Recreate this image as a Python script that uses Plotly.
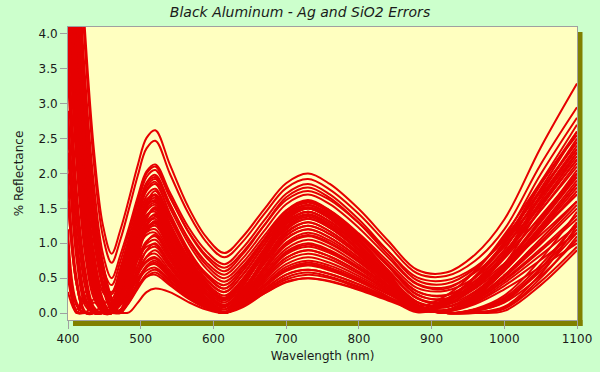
import plotly.graph_objects as go

wavelength_nm = [400, 412, 424, 436, 448, 460, 472, 484, 496, 508, 520, 540, 565, 590, 615,
                 640, 670, 700, 730, 760, 800, 840, 880, 920, 960, 1000, 1050, 1100]

r_a1 = [9.5, 6.2, 3.95, 2.3, 1.26, 0.85, 1.19, 1.64, 2.12, 2.51, 2.62, 2.13, 1.53, 1.09, 0.86, 1.09, 1.49, 1.86, 2.0, 1.85, 1.49, 1.04, 0.62, 0.58, 0.84, 1.34, 2.37, 3.29]
r_a2 = [9.0, 5.9, 3.7, 2.1, 1.1, 0.72, 1.05, 1.5, 1.97, 2.36, 2.47, 2.0, 1.44, 1.02, 0.8, 1.02, 1.42, 1.79, 1.92, 1.77, 1.42, 0.98, 0.57, 0.53, 0.75, 1.2, 2.13, 2.95]
r_b1 = [8.5, 5.5, 3.3, 1.8, 0.85, 0.5, 0.83, 1.23, 1.67, 2.03, 2.13, 1.73, 1.24, 0.89, 0.7, 0.93, 1.33, 1.71, 1.85, 1.7, 1.34, 0.89, 0.47, 0.42, 0.64, 1.09, 1.99, 2.8]
r_b2 = [8.0, 5.0, 2.9, 1.5, 0.65, 0.4, 0.74, 1.17, 1.62, 2.0, 2.1, 1.68, 1.17, 0.8, 0.6, 0.84, 1.26, 1.66, 1.8, 1.65, 1.29, 0.84, 0.42, 0.37, 0.58, 0.99, 1.84, 2.6]
r_b3 = [7.2, 4.4, 2.5, 1.2, 0.45, 0.3, 0.65, 1.09, 1.56, 1.95, 2.05, 1.66, 1.18, 0.83, 0.65, 0.87, 1.26, 1.62, 1.75, 1.62, 1.29, 0.89, 0.51, 0.47, 0.66, 1.05, 1.86, 2.55]
r_b4 = [6.6, 3.9, 2.0, 0.85, 0.3, 0.2, 0.56, 1.0, 1.48, 1.87, 1.98, 1.57, 1.06, 0.69, 0.5, 0.72, 1.11, 1.47, 1.6, 1.47, 1.14, 0.74, 0.36, 0.32, 0.51, 0.91, 1.75, 2.45]
r_b5 = [5.8, 3.2, 1.5, 0.55, 0.18, 0.15, 0.5, 0.95, 1.42, 1.81, 1.92, 1.51, 1.01, 0.64, 0.45, 0.67, 1.06, 1.42, 1.55, 1.42, 1.09, 0.69, 0.31, 0.26, 0.46, 0.85, 1.66, 2.35]
r_b6 = [5.0, 2.6, 1.1, 0.35, 0.1, 0.1, 0.45, 0.89, 1.36, 1.75, 1.85, 1.43, 0.92, 0.55, 0.35, 0.6, 1.03, 1.43, 1.58, 1.44, 1.09, 0.67, 0.26, 0.21, 0.41, 0.8, 1.61, 2.3]
r_c1 = [4.6, 2.3, 0.9, 0.3, 0.08, 0.05, 0.4, 0.83, 1.3, 1.68, 1.78, 1.37, 0.86, 0.49, 0.3, 0.54, 0.97, 1.37, 1.52, 1.38, 1.04, 0.61, 0.21, 0.17, 0.39, 0.82, 1.7, 2.5]
r_c2 = [8.0, 5.0, 2.9, 1.5, 0.7, 0.2, 0.0, 0.43, 1.02, 1.53, 1.7, 1.29, 0.8, 0.44, 0.25, 0.49, 0.91, 1.31, 1.45, 1.31, 0.97, 0.55, 0.16, 0.12, 0.31, 0.7, 1.51, 2.2]
r_c3 = [6.5, 3.6, 1.8, 0.75, 0.2, 0.0, 0.32, 0.73, 1.17, 1.52, 1.62, 1.22, 0.74, 0.39, 0.2, 0.46, 0.92, 1.34, 1.5, 1.36, 1.02, 0.6, 0.21, 0.14, 0.37, 0.78, 1.39, 2.0]
r_c4 = [3.8, 1.6, 0.5, 0.05, 0.0, 0.0, 0.31, 0.7, 1.12, 1.46, 1.55, 1.16, 0.68, 0.33, 0.15, 0.4, 0.83, 1.23, 1.38, 1.24, 0.91, 0.5, 0.11, 0.04, 0.25, 0.65, 1.25, 1.9]
r_c5 = [5.5, 3.0, 1.4, 0.5, 0.08, 0.0, 0.3, 0.67, 1.07, 1.39, 1.48, 1.09, 0.62, 0.28, 0.1, 0.34, 0.76, 1.16, 1.3, 1.17, 0.86, 0.47, 0.03, 0.15, 0.46, 0.88, 1.47, 2.1]
r_c6 = [7.0, 4.2, 2.3, 1.1, 0.4, 0.05, 0.04, 0.36, 0.85, 1.28, 1.42, 1.04, 0.57, 0.23, 0.05, 0.29, 0.71, 1.11, 1.25, 1.13, 0.83, 0.45, 0.1, 0.04, 0.23, 0.61, 1.19, 1.8]
r_c7 = [2.6, 0.9, 0.15, 0.0, 0.0, 0.0, 0.27, 0.61, 0.97, 1.27, 1.35, 0.97, 0.51, 0.18, 0.0, 0.24, 0.66, 1.06, 1.2, 1.08, 0.79, 0.46, 0.12, 0.0, 0.05, 0.22, 0.69, 1.3]
r_c8 = [5.0, 2.5, 1.0, 0.3, 0.02, 0.0, 0.26, 0.58, 0.92, 1.2, 1.28, 0.92, 0.49, 0.17, 0.0, 0.22, 0.62, 0.99, 1.12, 1.01, 0.74, 0.4, 0.02, 0.14, 0.43, 0.82, 1.37, 1.95]
r_c9 = [1.6, 0.4, 0.0, 0.0, 0.0, 0.06, 0.36, 0.66, 0.96, 1.16, 1.2, 0.86, 0.46, 0.16, 0.0, 0.21, 0.58, 0.92, 1.05, 0.95, 0.69, 0.38, 0.08, 0.03, 0.21, 0.54, 1.06, 1.6]
r_c10 = [7.6, 4.7, 2.7, 1.35, 0.6, 0.15, 0.0, 0.28, 0.67, 1.01, 1.12, 0.81, 0.43, 0.15, 0.0, 0.2, 0.54, 0.86, 0.98, 0.88, 0.65, 0.39, 0.12, 0.0, 0.01, 0.09, 0.56, 1.25]
r_c11 = [0.5, 0.0, 0.25, 0.0, 0.0, 0.0, 0.21, 0.47, 0.76, 0.99, 1.05, 0.76, 0.4, 0.14, 0.0, 0.22, 0.61, 0.97, 1.1, 0.99, 0.73, 0.4, 0.09, 0.04, 0.23, 0.6, 1.16, 1.75]
r_c12 = [3.4, 1.3, 0.35, 0.02, 0.0, 0.05, 0.29, 0.54, 0.78, 0.95, 0.98, 0.71, 0.37, 0.13, 0.0, 0.18, 0.5, 0.79, 0.9, 0.81, 0.59, 0.32, 0.07, 0.03, 0.18, 0.48, 0.92, 1.4]
r_c13 = [7.3, 4.4, 2.4, 1.2, 0.45, 0.08, 0.02, 0.23, 0.54, 0.81, 0.9, 0.65, 0.34, 0.12, 0.0, 0.17, 0.47, 0.75, 0.85, 0.77, 0.56, 0.32, 0.08, 0.0, 0.03, 0.16, 0.64, 1.3]
r_c14 = [1.2, 0.15, 0.0, 0.2, 0.0, 0.0, 0.17, 0.38, 0.61, 0.8, 0.85, 0.61, 0.32, 0.11, 0.0, 0.19, 0.52, 0.84, 0.95, 0.86, 0.63, 0.34, 0.08, 0.03, 0.2, 0.53, 1.02, 1.55]
r_d1 = [5.2, 2.8, 1.25, 0.42, 0.05, 0.0, 0.16, 0.36, 0.58, 0.75, 0.8, 0.58, 0.3, 0.1, 0.0, 0.15, 0.41, 0.66, 0.75, 0.68, 0.5, 0.28, 0.07, 0.0, 0.05, 0.2, 0.64, 1.2]
r_d2 = [2.3, 0.75, 0.1, 0.0, 0.0, 0.0, 0.02, 0.18, 0.43, 0.65, 0.72, 0.52, 0.27, 0.09, 0.0, 0.14, 0.39, 0.62, 0.7, 0.63, 0.46, 0.28, 0.08, 0.0, 0.01, 0.07, 0.5, 1.1]
r_d3 = [6.2, 3.4, 1.65, 0.65, 0.15, 0.0, 0.13, 0.29, 0.47, 0.61, 0.65, 0.47, 0.25, 0.08, 0.0, 0.12, 0.34, 0.55, 0.62, 0.56, 0.41, 0.22, 0.05, 0.02, 0.13, 0.34, 0.66, 1.0]
r_d4 = [0.7, 0.02, 0.0, 0.0, 0.0, 0.0, 0.0, 0.15, 0.35, 0.52, 0.58, 0.42, 0.22, 0.08, 0.0, 0.11, 0.3, 0.48, 0.55, 0.5, 0.36, 0.22, 0.07, 0.0, 0.0, 0.03, 0.4, 0.9]
r_d5 = [1.9, 0.5, 0.02, 0.0, 0.0, 0.0, 0.11, 0.25, 0.4, 0.52, 0.55, 0.4, 0.21, 0.07, 0.0, 0.1, 0.28, 0.44, 0.5, 0.45, 0.33, 0.18, 0.04, 0.03, 0.16, 0.43, 0.83, 1.25]
r_e1 = [0.3, 0.0, 0.0, 0.0, 0.0, 0.0, 0.0, 0.01, 0.15, 0.3, 0.35, 0.3, 0.16, 0.05, 0.0, 0.08, 0.28, 0.45, 0.5, 0.46, 0.34, 0.2, 0.06, 0.0, 0.0, 0.06, 0.45, 0.95]
r_f1 = [8.2, 5.2, 3.1, 1.6, 0.6, 0.12, 0.42, 0.82, 1.25, 1.6, 1.7, 1.34, 0.89, 0.57, 0.4, 0.64, 1.06, 1.46, 1.6, 1.46, 1.12, 0.7, 0.31, 0.25, 0.51, 1.02, 1.78, 2.6]
r_f2 = [4.0, 1.75, 0.6, 0.08, 0.0, 0.08, 0.48, 0.88, 1.28, 1.55, 1.6, 1.24, 0.79, 0.47, 0.3, 0.55, 0.99, 1.4, 1.55, 1.4, 1.06, 0.62, 0.22, 0.14, 0.39, 0.85, 1.55, 2.3]
r_f3 = [6.8, 4.0, 2.15, 1.0, 0.35, 0.04, 0.04, 0.38, 0.9, 1.35, 1.5, 1.14, 0.69, 0.37, 0.2, 0.45, 0.89, 1.3, 1.45, 1.31, 0.97, 0.55, 0.08, 0.2, 0.52, 0.95, 1.55, 2.2]
r_f4 = [2.0, 0.4, 0.0, 0.0, 0.12, 0.0, 0.28, 0.63, 1.01, 1.32, 1.4, 1.04, 0.59, 0.27, 0.1, 0.38, 0.87, 1.33, 1.5, 1.35, 0.99, 0.54, 0.12, 0.04, 0.27, 0.7, 1.35, 2.05]
r_f5 = [4.7, 2.3, 0.9, 0.25, 0.02, 0.0, 0.26, 0.59, 0.94, 1.22, 1.3, 0.95, 0.53, 0.21, 0.05, 0.32, 0.79, 1.24, 1.4, 1.26, 0.92, 0.5, 0.03, 0.17, 0.53, 1.01, 1.68, 2.4]
r_f6 = [6.0, 3.3, 1.6, 0.6, 0.12, 0.0, 0.33, 0.74, 1.19, 1.55, 1.65, 1.22, 0.69, 0.3, 0.1, 0.33, 0.73, 1.11, 1.25, 1.13, 0.83, 0.45, 0.1, 0.04, 0.24, 0.63, 1.22, 1.85]
r_f7 = [2.9, 1.1, 0.22, 0.0, 0.0, 0.06, 0.35, 0.63, 0.92, 1.12, 1.15, 0.83, 0.44, 0.15, 0.0, 0.27, 0.74, 1.19, 1.35, 1.22, 0.89, 0.49, 0.11, 0.04, 0.26, 0.68, 1.32, 2.0]
r_f8 = [7.8, 4.8, 2.8, 1.4, 0.62, 0.16, 0.0, 0.19, 0.45, 0.68, 0.75, 0.54, 0.29, 0.1, 0.0, 0.12, 0.34, 0.55, 0.62, 0.56, 0.41, 0.22, 0.01, 0.11, 0.35, 0.67, 1.12, 1.6]
r_f9 = [4.3, 2.1, 0.8, 0.2, 0.06, 0.05, 0.42, 0.87, 1.37, 1.77, 1.88, 1.41, 0.84, 0.42, 0.2, 0.43, 0.83, 1.21, 1.35, 1.22, 0.91, 0.52, 0.15, 0.09, 0.29, 0.68, 1.3, 1.95]
r_f10 = [0.9, 0.05, 0.3, 0.0, 0.0, 0.0, 0.02, 0.25, 0.6, 0.9, 1.0, 0.72, 0.38, 0.13, 0.0, 0.16, 0.44, 0.7, 0.8, 0.72, 0.53, 0.3, 0.08, 0.0, 0.04, 0.18, 0.6, 1.15]
r_g1 = [7.8, 4.9, 2.8, 1.4, 0.55, 0.27, 0.59, 1.02, 1.47, 1.85, 1.95, 1.56, 1.08, 0.73, 0.55, 0.78, 1.18, 1.56, 1.7, 1.56, 1.22, 0.8, 0.41, 0.35, 0.61, 1.12, 1.88, 2.7]
r_g2 = [7.2, 4.3, 2.35, 1.15, 0.42, 0.06, 0.05, 0.44, 1.05, 1.58, 1.75, 1.36, 0.88, 0.53, 0.35, 0.6, 1.05, 1.47, 1.62, 1.47, 1.12, 0.68, 0.27, 0.19, 0.41, 0.83, 1.47, 2.15]
r_g3 = [5.7, 3.1, 1.45, 0.52, 0.1, 0.0, 0.32, 0.71, 1.14, 1.49, 1.58, 1.19, 0.71, 0.36, 0.18, 0.43, 0.86, 1.27, 1.42, 1.28, 0.95, 0.54, 0.16, 0.08, 0.26, 0.61, 1.17, 1.7]
r_g4 = [3.6, 1.5, 0.45, 0.04, 0.0, 0.07, 0.44, 0.8, 1.16, 1.41, 1.45, 1.07, 0.6, 0.26, 0.08, 0.37, 0.89, 1.37, 1.55, 1.4, 1.03, 0.57, 0.05, 0.18, 0.51, 0.96, 1.58, 2.25]
r_g5 = [8.3, 5.3, 3.0, 1.55, 0.72, 0.22, 0.0, 0.35, 0.83, 1.24, 1.38, 1.0, 0.54, 0.2, 0.02, 0.25, 0.64, 1.01, 1.15, 1.04, 0.76, 0.44, 0.11, 0.0, 0.06, 0.25, 0.77, 1.45]
r_g6 = [1.0, 0.1, 0.0, 0.15, 0.0, 0.0, 0.25, 0.56, 0.9, 1.18, 1.25, 0.9, 0.48, 0.16, 0.0, 0.29, 0.8, 1.28, 1.45, 1.31, 0.96, 0.52, 0.03, 0.16, 0.52, 0.99, 1.65, 2.35]
r_g7 = [5.3, 2.7, 1.15, 0.38, 0.04, 0.0, 0.22, 0.5, 0.79, 1.03, 1.1, 0.79, 0.42, 0.14, 0.0, 0.26, 0.72, 1.14, 1.3, 1.17, 0.86, 0.47, 0.1, 0.04, 0.24, 0.63, 1.22, 1.85]
r_g8 = [6.4, 3.5, 1.75, 0.72, 0.18, 0.0, 0.19, 0.43, 0.68, 0.89, 0.95, 0.68, 0.36, 0.12, 0.0, 0.14, 0.4, 0.63, 0.72, 0.65, 0.48, 0.27, 0.07, 0.0, 0.03, 0.15, 0.53, 1.05]
r_g9 = [3.8, 1.6, 0.5, 0.05, 0.0, 0.0, 0.14, 0.32, 0.5, 0.66, 0.7, 0.5, 0.27, 0.09, 0.0, 0.14, 0.37, 0.6, 0.68, 0.61, 0.45, 0.24, 0.05, 0.03, 0.18, 0.46, 0.89, 1.35]
r_g10 = [2.8, 1.0, 0.2, 0.0, 0.0, 0.08, 0.5, 0.92, 1.34, 1.63, 1.68, 1.27, 0.77, 0.41, 0.22, 0.48, 0.92, 1.35, 1.5, 1.36, 1.02, 0.59, 0.11, 0.25, 0.6, 1.08, 1.74, 2.45]
r_g11 = [7.9, 4.9, 2.85, 1.45, 0.66, 0.18, 0.0, 0.38, 0.91, 1.37, 1.52, 1.13, 0.65, 0.3, 0.12, 0.34, 0.71, 1.07, 1.2, 1.08, 0.79, 0.43, 0.1, 0.03, 0.21, 0.54, 1.06, 1.6]
r_g12 = [0.6, 0.0, 0.18, 0.0, 0.0, 0.0, 0.01, 0.16, 0.37, 0.56, 0.62, 0.45, 0.24, 0.08, 0.0, 0.12, 0.32, 0.51, 0.58, 0.52, 0.38, 0.21, 0.05, 0.02, 0.15, 0.39, 0.76, 1.15]
r_g13 = [7.0, 4.2, 2.3, 1.1, 0.4, 0.05, 0.04, 0.33, 0.79, 1.19, 1.32, 0.95, 0.5, 0.17, 0.0, 0.2, 0.55, 0.88, 1.0, 0.9, 0.66, 0.36, 0.08, 0.03, 0.2, 0.51, 0.99, 1.5]
r_g14 = [1.6, 0.4, 0.0, 0.0, 0.0, 0.0, 0.16, 0.35, 0.56, 0.73, 0.78, 0.56, 0.3, 0.1, 0.0, 0.18, 0.5, 0.79, 0.9, 0.81, 0.59, 0.32, 0.02, 0.12, 0.37, 0.71, 1.19, 1.7]

curves = [r_a1, r_a2, r_b1, r_b2, r_b3, r_b4, r_b5, r_b6,
          r_c1, r_c2, r_c3, r_c4, r_c5, r_c6, r_c7, r_c8, r_c9, r_c10, r_c11, r_c12, r_c13, r_c14,
          r_d1, r_d2, r_d3, r_d4, r_d5, r_e1,
          r_f1, r_f2, r_f3, r_f4, r_f5, r_f6, r_f7, r_f8, r_f9, r_f10,
          r_g1, r_g2, r_g3, r_g4, r_g5, r_g6, r_g7, r_g8, r_g9, r_g10, r_g11, r_g12, r_g13, r_g14]

x_ticks = [400, 500, 600, 700, 800, 900, 1000, 1100]
y_ticks = [0.0, 0.5, 1.0, 1.5, 2.0, 2.5, 3.0, 3.5, 4.0]

RED = "#E60000"
FONT = "DejaVu Sans"
TXT = "#1a1a1a"

fig = go.Figure()
for c in curves:
    fig.add_trace(go.Scatter(x=wavelength_nm, y=c, mode="lines",
                             line=dict(color=RED, width=2, shape="spline", smoothing=1.0),
                             hoverinfo="skip", showlegend=False))

W, H = 600, 372
ml, mr, mt, mb = 68, 23, 27, 52
pw = W - ml - mr
ph = H - mt - mb
dx = 5.5 / pw
dy = 6.0 / ph
OLIVE = "#808000"
fig.add_shape(type="rect", xref="paper", yref="paper", x0=1.0, x1=1.0 + dx,
              y0=-dy, y1=1.0 - 5.0 / ph, fillcolor=OLIVE, line_width=0, layer="below")
fig.add_shape(type="rect", xref="paper", yref="paper", x0=5.0 / pw, x1=1.0 + dx,
              y0=-dy, y1=0.0, fillcolor=OLIVE, line_width=0, layer="below")

fig.update_layout(
    width=W, height=H,
    margin=dict(l=ml, r=mr, t=mt, b=mb, pad=0),
    paper_bgcolor="#CCFFCC", plot_bgcolor="#FFFFC0",
    font=dict(family=FONT, size=12, color=TXT),
    title=dict(text="<i>Black Aluminum - Ag and SiO2 Errors</i>", x=0.5, xanchor="center",
               y=1 - 12 / H, yanchor="middle", font=dict(family=FONT, size=14, color=TXT)),
    xaxis=dict(range=[400, 1100], tickvals=x_ticks, ticks="outside", ticklen=8,
               tickcolor="#A0A0A0", linecolor="#A0A0A0", linewidth=1, mirror=True,
               showgrid=False, zeroline=False, automargin=False,
               title=dict(text="Wavelength (nm)", standoff=6, font=dict(size=12)),
               tickfont=dict(size=12)),
    yaxis=dict(range=[-0.1, 4.1], tickvals=y_ticks, tickformat=".1f", ticks="outside",
               ticklen=7, tickcolor="#A0A0A0", linecolor="#A0A0A0", linewidth=1, mirror=True,
               showgrid=False, zeroline=False, automargin=False,
               title=dict(text="% Reflectance", standoff=12, font=dict(size=12)),
               tickfont=dict(size=12)),
)

fig.write_html("out.html", config={"displayModeBar": False},
               post_script="document.body.style.margin='0';document.body.style.padding='0';")
